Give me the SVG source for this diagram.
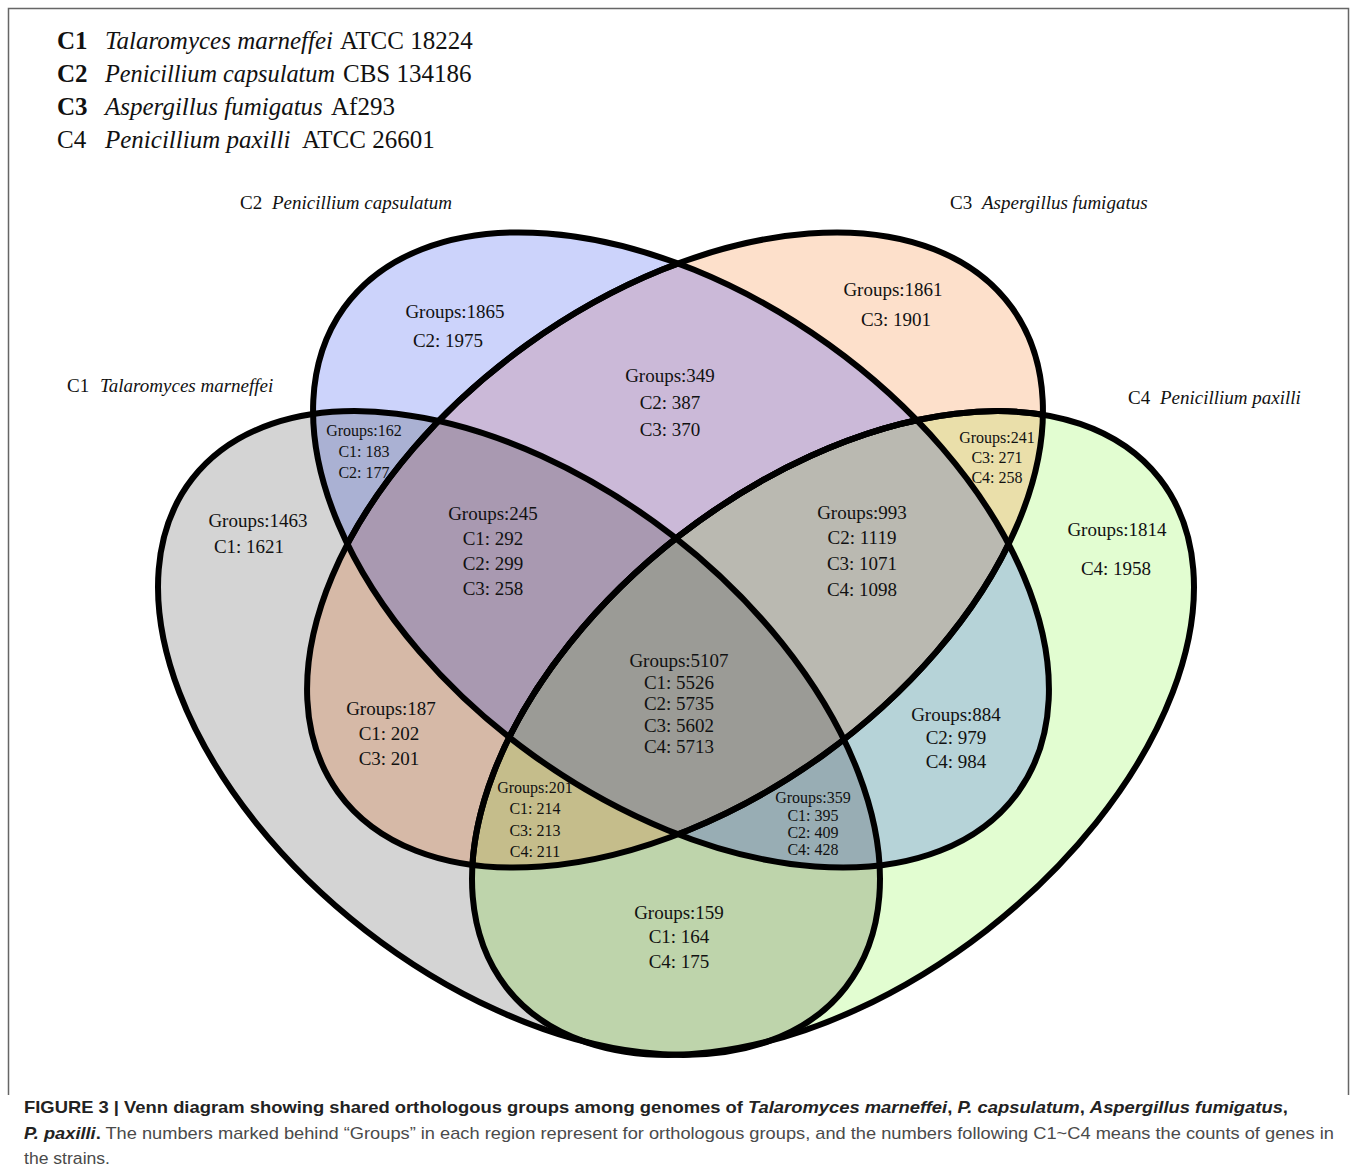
<svg xmlns="http://www.w3.org/2000/svg" width="1357" height="1172" viewBox="0 0 1357 1172">
<style>
.hd{font-family:"Liberation Serif","Times New Roman",serif;font-size:25px;fill:#111}
.b{font-weight:bold}
.i{font-style:italic}
.nm{font-family:"Liberation Serif","Times New Roman",serif;font-size:19px;fill:#111}
.t{font-family:"Liberation Serif","Times New Roman",serif;font-size:19px;fill:#111;text-anchor:middle}
.ts{font-family:"Liberation Serif","Times New Roman",serif;font-size:16px;fill:#111;text-anchor:middle}
.ln{fill:none;stroke:#000;stroke-width:6}
.cap{font-family:"Liberation Sans Narrow","Liberation Sans",Arial,sans-serif;font-size:17px;fill:#4a4a4a}
.capb{font-weight:bold;fill:#222}
</style>
<defs>
<ellipse id="e1" cx="519" cy="733" rx="414" ry="250" transform="rotate(37.9 519 733)"/>
<ellipse id="e2" cx="681" cy="550" rx="415" ry="253" transform="rotate(35.7 681 550)"/>
<ellipse id="e3" cx="675" cy="550" rx="415" ry="253" transform="rotate(-35.7 675 550)"/>
<ellipse id="e4" cx="833" cy="733" rx="414" ry="250" transform="rotate(-37.9 833 733)"/>
<clipPath id="k1"><use href="#e1"/></clipPath>
<clipPath id="k2"><use href="#e2"/></clipPath>
<clipPath id="k3"><use href="#e3"/></clipPath>
<clipPath id="k4"><use href="#e4"/></clipPath>
</defs>
<rect width="1357" height="1172" fill="#fff"/>
<path d="M8.5 1095V8.5H1348.5V1095" fill="none" stroke="#666" stroke-width="1.5"/>

<g id="legend">
<text class="hd" x="57" y="49"><tspan class="b">C1</tspan><tspan x="105" class="i">Talaromyces marneffei</tspan><tspan x="340">ATCC 18224</tspan></text>
<text class="hd" x="57" y="82"><tspan class="b">C2</tspan><tspan x="105" class="i" textLength="230" lengthAdjust="spacingAndGlyphs">Penicillium capsulatum</tspan><tspan x="343">CBS 134186</tspan></text>
<text class="hd" x="57" y="115"><tspan class="b">C3</tspan><tspan x="105" class="i">Aspergillus fumigatus</tspan><tspan x="331">Af293</tspan></text>
<text class="hd" x="57" y="148"><tspan>C4</tspan><tspan x="105" class="i">Penicillium paxilli</tspan><tspan x="302">ATCC 26601</tspan></text>
</g>

<g id="region-fills">
<use href="#e1" fill="#d4d4d4"/>
<use href="#e2" fill="#ccd3fb"/>
<use href="#e3" fill="#fde0cb"/>
<use href="#e4" fill="#e2fdd1"/>
<g clip-path="url(#k1)">
<use href="#e2" fill="#aab1d3"/>
<use href="#e3" fill="#d6b9a7"/>
<use href="#e4" fill="#bed4ab"/>
</g>
<g clip-path="url(#k2)">
<use href="#e3" fill="#cbb9d8"/>
<use href="#e4" fill="#b6d3d8"/>
</g>
<g clip-path="url(#k3)"><use href="#e4" fill="#eadfaa"/></g>
<g clip-path="url(#k1)"><g clip-path="url(#k2)"><use href="#e3" fill="#a999b1"/><use href="#e4" fill="#98adb4"/></g></g>
<g clip-path="url(#k1)"><g clip-path="url(#k3)"><use href="#e4" fill="#c5bd8b"/></g></g>
<g clip-path="url(#k2)"><g clip-path="url(#k3)"><use href="#e4" fill="#bab9b1"/></g></g>
<g clip-path="url(#k1)"><g clip-path="url(#k2)"><g clip-path="url(#k3)"><use href="#e4" fill="#9b9b96"/></g></g></g>
</g>

<g id="set-C4"><use href="#e4" class="ln"/>
<g clip-path="url(#k3)"><use href="#e4" class="ln" stroke="#2c1507"/></g>
<g clip-path="url(#k2)"><g clip-path="url(#k3)"><use href="#e4" class="ln" stroke="#1f1131"/></g></g>
</g>
<g id="set-C3"><use href="#e3" class="ln"/>
<g clip-path="url(#k2)"><use href="#e3" class="ln" stroke="#0c0c3a"/></g>
</g>
<g id="set-C2"><use href="#e2" class="ln"/></g>
<g id="set-C1"><use href="#e1" class="ln"/></g>

<g id="set-labels">
<text class="nm" x="67" y="392">C1<tspan x="100" class="i">Talaromyces marneffei</tspan></text>
<text class="nm" x="240" y="209">C2<tspan x="272" class="i">Penicillium capsulatum</tspan></text>
<text class="nm" x="950" y="209">C3<tspan x="982" class="i">Aspergillus fumigatus</tspan></text>
<text class="nm" x="1128" y="404">C4<tspan x="1160" class="i">Penicillium paxilli</tspan></text>
</g>

<g id="r-C2"><text class="t" x="455" y="318">Groups:1865</text><text class="t" x="448" y="347">C2: 1975</text></g>
<g id="r-C3"><text class="t" x="893" y="296">Groups:1861</text><text class="t" x="896" y="326">C3: 1901</text></g>
<g id="r-C2C3"><text class="t" x="670" y="382">Groups:349</text><text class="t" x="670" y="409">C2: 387</text><text class="t" x="670" y="436">C3: 370</text></g>
<g id="r-C1C2"><text class="ts" x="364" y="436">Groups:162</text><text class="ts" x="364" y="457">C1: 183</text><text class="ts" x="364" y="478">C2: 177</text></g>
<g id="r-C3C4"><text class="ts" x="997" y="443">Groups:241</text><text class="ts" x="997" y="463">C3: 271</text><text class="ts" x="997" y="483">C4: 258</text></g>
<g id="r-C1"><text class="t" x="258" y="527">Groups:1463</text><text class="t" x="249" y="553">C1: 1621</text></g>
<g id="r-C4"><text class="t" x="1117" y="536">Groups:1814</text><text class="t" x="1116" y="575">C4: 1958</text></g>
<g id="r-C1C2C3"><text class="t" x="493" y="520">Groups:245</text><text class="t" x="493" y="545">C1: 292</text><text class="t" x="493" y="570">C2: 299</text><text class="t" x="493" y="595">C3: 258</text></g>
<g id="r-C2C3C4"><text class="t" x="862" y="519">Groups:993</text><text class="t" x="862" y="544">C2: 1119</text><text class="t" x="862" y="570">C3: 1071</text><text class="t" x="862" y="596">C4: 1098</text></g>
<g id="r-all"><text class="t" x="679" y="667">Groups:5107</text><text class="t" x="679" y="689">C1: 5526</text><text class="t" x="679" y="710">C2: 5735</text><text class="t" x="679" y="732">C3: 5602</text><text class="t" x="679" y="753">C4: 5713</text></g>
<g id="r-C1C3"><text class="t" x="391" y="715">Groups:187</text><text class="t" x="389" y="740">C1: 202</text><text class="t" x="389" y="765">C3: 201</text></g>
<g id="r-C2C4"><text class="t" x="956" y="721">Groups:884</text><text class="t" x="956" y="744">C2: 979</text><text class="t" x="956" y="768">C4: 984</text></g>
<g id="r-C1C3C4"><text class="ts" x="535" y="793">Groups:201</text><text class="ts" x="535" y="814">C1: 214</text><text class="ts" x="535" y="836">C3: 213</text><text class="ts" x="535" y="857">C4: 211</text></g>
<g id="r-C1C2C4"><text class="ts" x="813" y="803">Groups:359</text><text class="ts" x="813" y="821">C1: 395</text><text class="ts" x="813" y="838">C2: 409</text><text class="ts" x="813" y="855">C4: 428</text></g>
<g id="r-C1C4"><text class="t" x="679" y="919">Groups:159</text><text class="t" x="679" y="943">C1: 164</text><text class="t" x="679" y="968">C4: 175</text></g>

<g id="caption" class="cap">
<text x="24" y="1113" textLength="1264" lengthAdjust="spacingAndGlyphs"><tspan class="capb">FIGURE 3 | Venn diagram showing shared orthologous groups among genomes of <tspan class="i">Talaromyces marneffei</tspan>, <tspan class="i">P. capsulatum</tspan>, <tspan class="i">Aspergillus fumigatus</tspan>,</tspan></text>
<text x="24" y="1139" textLength="1310" lengthAdjust="spacingAndGlyphs"><tspan class="capb"><tspan class="i">P. paxilli</tspan>.</tspan> The numbers marked behind “Groups” in each region represent for orthologous groups, and the numbers following C1~C4 means the counts of genes in</text>
<text x="24" y="1164" textLength="86" lengthAdjust="spacingAndGlyphs">the strains.</text>
</g>
</svg>
